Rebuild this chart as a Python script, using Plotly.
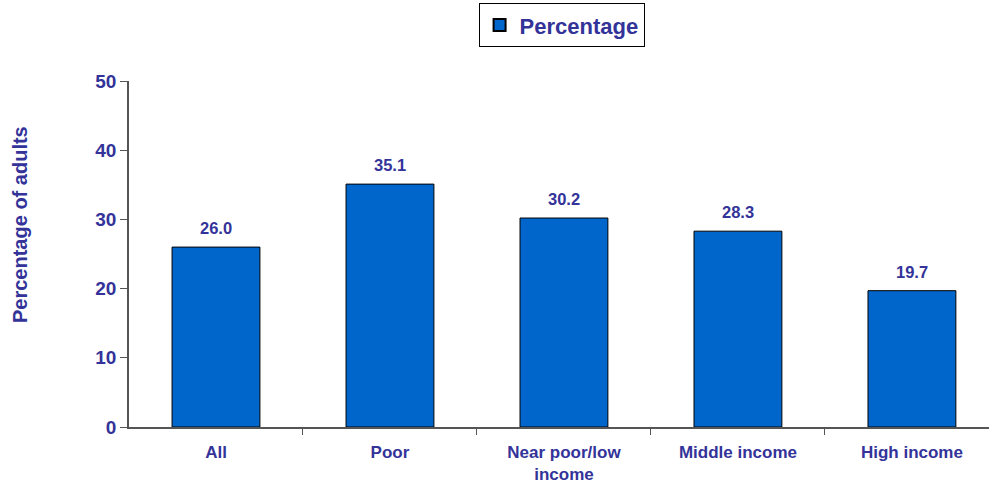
import plotly.graph_objects as go

categories = ["All", "Poor", "Near poor/low<br>income", "Middle income", "High income"]
values = [26.0, 35.1, 30.2, 28.3, 19.7]
y_ticks = [0, 10, 20, 30, 40, 50]

navy = "#333399"
font_family = "Liberation Sans, Arial, sans-serif"

fig = go.Figure()
fig.add_trace(go.Bar(
    x=list(range(len(categories))),
    y=values,
    name="<b>Percentage</b>",
    marker=dict(color="#0066CC", line=dict(color="#000000", width=1)),
    width=0.505,
))

for i, v in enumerate(values):
    fig.add_annotation(
        x=i, y=v, text="<b>%.1f</b>" % v, showarrow=False,
        yanchor="bottom", yshift=8,
        font=dict(size=16.5, color=navy, family=font_family),
    )

fig.update_layout(
    width=989, height=485,
    margin=dict(l=129, r=0, t=81, b=58),
    plot_bgcolor="white", paper_bgcolor="white",
    font=dict(family=font_family, color=navy),
    showlegend=True,
    legend=dict(
        x=0.503, y=1.225, xanchor="center", yanchor="top",
        bordercolor="#000000", borderwidth=1,
        font=dict(size=22, color=navy, family=font_family),
        itemsizing="constant",
    ),
)

fig.update_xaxes(
    range=[-0.5, 4.443],
    tickmode="array",
    tickvals=list(range(len(categories))),
    ticktext=["<b>%s</b>" % c for c in categories],
    tickfont=dict(size=17, color=navy, family=font_family),
    ticklabelstandoff=9,
    showline=True, linecolor="#555555", linewidth=1.5,
    ticks="", showgrid=False, zeroline=False,
    minor=dict(tickmode="array", tickvals=[0.5, 1.5, 2.5, 3.5], ticks="outside",
               ticklen=6, tickcolor="#555555", tickwidth=1, showgrid=False),
)

fig.update_yaxes(
    range=[0, 50],
    tickmode="array",
    tickvals=y_ticks,
    ticktext=["<b>%d</b>" % v for v in y_ticks],
    tickfont=dict(size=19, color=navy, family=font_family),
    showline=True, linecolor="#555555", linewidth=1.5,
    ticks="outside", ticklen=7, tickcolor="#555555", tickwidth=1,
    showgrid=False, zeroline=False,
)

fig.add_annotation(
    text="<b>Percentage of adults</b>",
    xref="paper", yref="paper",
    x=(20 - 129) / 860, y=(427 - 224) / 346,
    xanchor="center", yanchor="middle",
    textangle=-90, showarrow=False,
    font=dict(size=20, color=navy, family=font_family),
)

fig.write_html("out.html")
